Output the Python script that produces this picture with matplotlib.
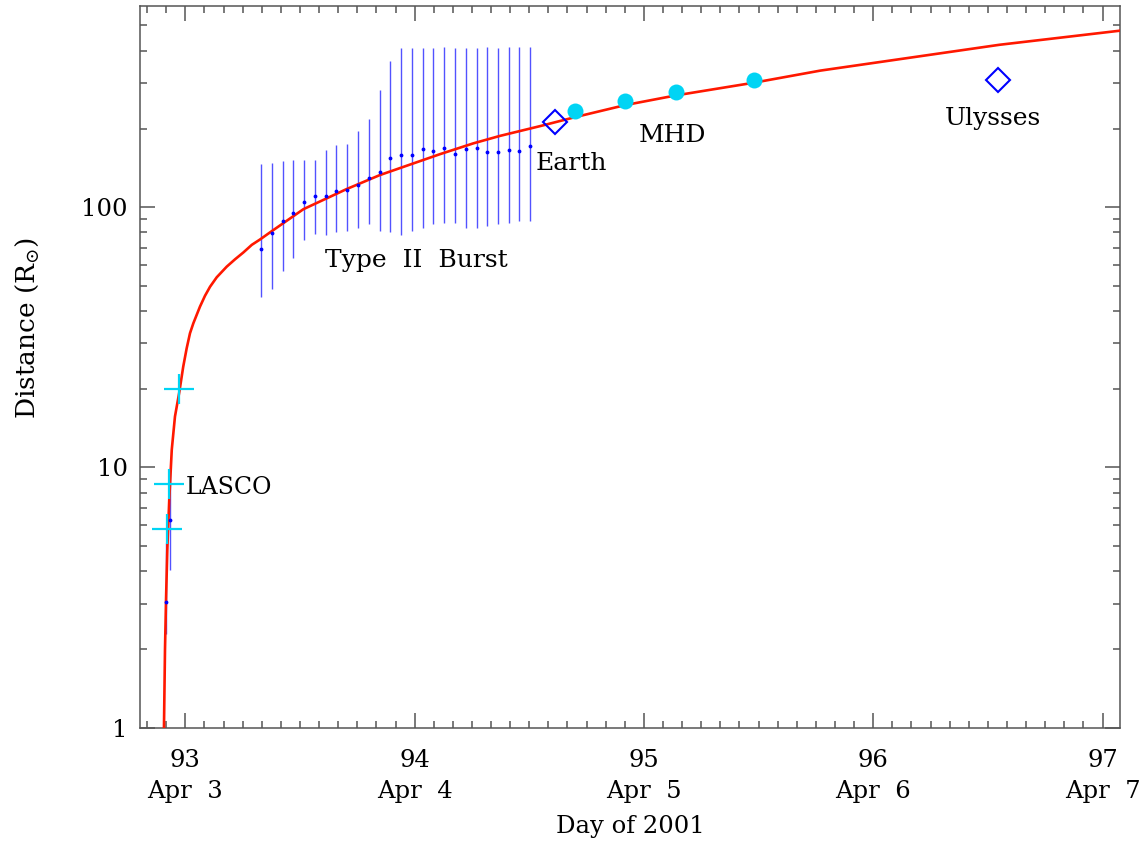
import matplotlib as mpl
import matplotlib.pyplot as plt
from matplotlib.ticker import FixedLocator, LogLocator, MultipleLocator, NullFormatter

mpl.rcParams.update(
    {
        "font.family": "DejaVu Serif",
        "mathtext.fontset": "dejavuserif",
        "font.size": 17.5,
        "axes.linewidth": 1.1,
        "axes.edgecolor": "#555555",
    }
)

# propagation fit (day of year, distance in solar radii)
fit_day = [92.907, 92.9115, 92.916, 92.9215, 92.930, 92.941, 92.955, 92.974,
           92.991, 93.006, 93.0205, 93.035, 93.064, 93.086, 93.108, 93.137,
           93.1805, 93.217, 93.253, 93.290, 93.326, 93.369, 93.515, 93.704,
           93.849, 94.111, 94.256, 94.372, 94.547, 94.70, 94.919, 95.139,
           95.479, 95.769, 96.55, 97.076]
fit_r = [1.0, 2.0, 3.1, 4.8, 7.5, 11.7, 15.7, 19.5,
         24.4, 28.7, 32.8, 35.8, 41.5, 45.7, 49.5, 53.8,
         59.1, 63.1, 67.0, 71.7, 75.2, 80.0, 98.3, 117.5,
         133, 160, 176, 188, 205, 222, 247, 269,
         301, 335, 421, 477]

# Type II radio burst heights with ranges
burst_day = [93.330, 93.377, 93.424, 93.471, 93.517, 93.564, 93.612, 93.659,
             93.705, 93.752, 93.800, 93.847, 93.893, 93.941, 93.988, 94.036,
             94.082, 94.129, 94.176, 94.223, 94.270, 94.317, 94.364, 94.410,
             94.457, 94.503]
burst_r = [69.2, 79.5, 88.9, 95.0, 104.5, 110, 110, 115.8,
           117, 121.8, 130, 136, 155, 159, 159, 167.5,
           164.8, 169.5, 160.7, 167.5, 169.5, 162.6, 162.6, 166.4,
           165, 171.5]
burst_hi = [146, 148, 150, 152, 152, 152, 166, 173,
            175, 197, 219, 282, 365, 409, 409, 409,
            409, 414, 409, 409, 409, 414, 409, 414,
            414, 414]
burst_lo = [45.3, 48.7, 56.9, 64.0, 74.9, 79.2, 78.0, 80.2,
            81.3, 83.5, 86.0, 81.3, 80.2, 78.0, 81.3, 83.5,
            86.0, 87.3, 87.3, 83.5, 83.5, 84.8, 86.0, 87.3,
            88.6, 88.6]

# early radio points near the Sun
early_day = [92.916, 92.932]
early_r = [3.04, 6.27]
early_hi = [5.11, 9.93]
early_lo = [2.29, 4.04]

# LASCO white-light heights
lasco_day = [92.9215, 92.930, 92.974]
lasco_r = [5.80, 8.64, 20.0]

# MHD model heights
mhd_day = [94.700, 94.919, 95.139, 95.479]
mhd_r = [235, 256, 277.4, 309.3]

# spacecraft
earth_day, earth_r = 94.611, 213.3
ulysses_day, ulysses_r = 96.546, 309.3

xtick_days = [93, 94, 95, 96, 97]
xtick_dates = ["Apr  3", "Apr  4", "Apr  5", "Apr  6", "Apr  7"]

RED = "#ff1800"
BLUE = "#0000ff"
CYAN = "#00d4f4"

fig = plt.figure(figsize=(11.48, 8.47), dpi=100)
ax = fig.add_axes([140 / 1148, 119.3 / 847, 980 / 1148, 722 / 847])

ax.vlines(burst_day, burst_lo, burst_hi, color=BLUE, lw=1.0, alpha=0.68, zorder=2)
ax.plot(burst_day, burst_r, ".", color=BLUE, ms=3.5, zorder=4)
ax.vlines(early_day, early_lo, early_hi, color=BLUE, lw=1.0, alpha=0.68, zorder=2)
ax.plot(early_day, early_r, ".", color=BLUE, ms=3.5, zorder=4)

ax.plot(fit_day, fit_r, color=RED, lw=1.9, zorder=3, solid_joinstyle="round")

ax.plot(lasco_day, lasco_r, "+", color=CYAN, ms=21, mew=1.6, zorder=5)
ax.plot(mhd_day, mhd_r, "o", color=CYAN, ms=11.5, mew=0, zorder=5)
ax.plot([earth_day, ulysses_day], [earth_r, ulysses_r], "D", mfc="none",
        mec=BLUE, ms=12.3, mew=1.5, zorder=5)

ax.text(94.009, 58.8, "Type  II  Burst", ha="center", va="baseline", fontsize=18)
ax.text(94.529, 139, "Earth", ha="left", va="baseline", fontsize=18)
ax.text(95.126, 178.7, "MHD", ha="center", va="baseline", fontsize=18)
ax.text(96.524, 207, "Ulysses", ha="center", va="baseline", fontsize=18)
ax.text(93.002, 7.91, "LASCO", ha="left", va="baseline", fontsize=17)

ax.set_yscale("log")
ax.set_xlim(92.8025, 97.076)
ax.set_ylim(1, 595)

ax.xaxis.set_major_locator(FixedLocator(xtick_days))
ax.xaxis.set_minor_locator(MultipleLocator(1 / 12))
ax.set_xticklabels([f"{d}\n{s}" for d, s in zip(xtick_days, xtick_dates)],
                   linespacing=1.45)

ax.yaxis.set_major_locator(FixedLocator([1, 10, 100]))
ax.yaxis.set_minor_locator(LogLocator(base=10, subs=range(2, 10)))
ax.yaxis.set_minor_formatter(NullFormatter())
ax.set_yticklabels(["1", "10", "100"])

ax.tick_params(which="both", direction="in", top=True, right=True,
               color="#555555", width=1.1)
ax.tick_params(which="major", length=10.5)
ax.tick_params(which="minor", length=5)
ax.tick_params(axis="x", which="major", pad=15)
ax.tick_params(axis="y", which="major", pad=9)

ax.set_xlabel("Day of 2001", labelpad=9)
ax.set_ylabel(r"Distance (R$_{\odot}$)", fontsize=19)
ax.yaxis.set_label_coords(-0.101, 0.554)

fig.savefig("out.png", dpi=100)
